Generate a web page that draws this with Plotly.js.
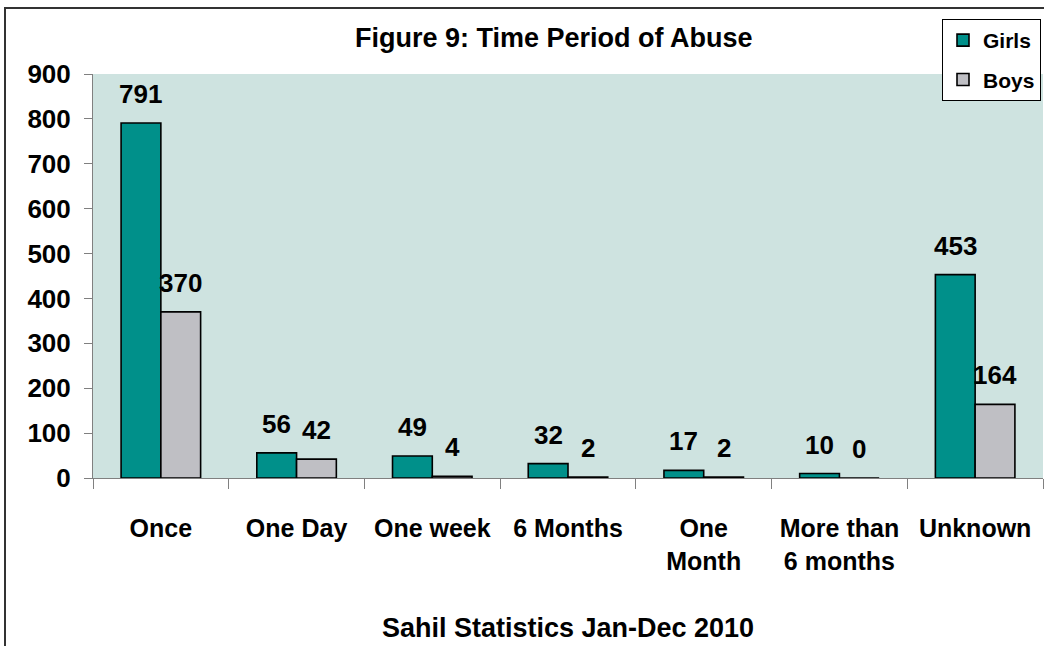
<!DOCTYPE html>
<html>
<head>
<meta charset="utf-8">
<script src="https://cdn.plot.ly/plotly-3.0.1.min.js"></script>
<style>
html,body{margin:0;padding:0;background:#fff;}
#chart{width:1044px;height:646px;}
</style>
</head>
<body>
<div id="chart"></div>
<script>
const categories = ["Once", "One Day", "One week", "6 Months", "One<br>Month", "More than<br>6 months", "Unknown"];
const girls = [791, 56, 49, 32, 17, 10, 453];
const boys = [370, 42, 4, 2, 2, 0, 164];
const seriesNames = ["Girls", "Boys"];
const yTicks = [0, 100, 200, 300, 400, 500, 600, 700, 800, 900];

const FONT = '"Liberation Sans", Arial, sans-serif';
const bargap = 0.414;
const barW = (1 - bargap) / 2;

const traces = [
  {
    type: 'bar', name: seriesNames[0], x: categories, y: girls,
    marker: {color: '#00908A', line: {color: '#000000', width: 1.6}},
    legendgroup: 'g', hoverinfo: 'skip'
  },
  {
    type: 'bar', name: seriesNames[1], x: categories, y: boys,
    marker: {color: '#BFBFC4', line: {color: '#000000', width: 1.6}},
    legendgroup: 'b', hoverinfo: 'skip'
  }
];

const annotations = [];
[girls, boys].forEach((vals, j) => {
  vals.forEach((v, i) => {
    annotations.push({
      x: i + (j === 0 ? -barW / 2 : barW / 2), xref: 'x',
      y: v, yref: 'y', yanchor: 'middle', yshift: 29,
      text: '<b>' + v + '</b>', showarrow: false,
      font: {family: FONT, size: 26, color: '#000'}
    });
  });
});

const layout = {
  width: 1044, height: 646,
  margin: {l: 93, r: 1, t: 74, b: 168},
  paper_bgcolor: '#ffffff',
  plot_bgcolor: '#CEE3E0',
  font: {family: FONT, color: '#000', size: 26, weight: 'bold'},
  title: {
    text: '<b>Figure 9: Time Period of Abuse</b>',
    font: {family: FONT, size: 27, color: '#000'},
    xref: 'paper', x: 0.485, xanchor: 'center',
    yref: 'container', y: 1 - 38 / 646, yanchor: 'middle'
  },
  barmode: 'group', bargap: bargap, bargroupgap: 0,
  xaxis: {
    type: 'category', tickangle: 0,
    tickson: 'boundaries', ticks: 'outside', ticklen: 10, tickcolor: '#808080', tickwidth: 1,
    showline: true, linecolor: '#808080', linewidth: 1,
    showgrid: false, zeroline: false,
    tickfont: {family: FONT, size: 25, color: '#000', weight: 'bold'},
    ticklabelstandoff: 28,
    automargin: false,
    title: {text: '<b>Sahil Statistics Jan-Dec 2010</b>', font: {family: FONT, size: 27, color: '#000'}, standoff: 44}
  },
  yaxis: {
    range: [0, 900], tickvals: yTicks, ticktext: yTicks.map(String),
    ticks: 'outside', ticklen: 8, tickcolor: '#808080', tickwidth: 1,
    showline: true, linecolor: '#808080', linewidth: 1,
    showgrid: false, zeroline: false,
    tickfont: {family: FONT, size: 26, color: '#000', weight: 'bold'},
    ticklabelstandoff: 8,
    automargin: false
  },
  showlegend: true,
  legend: {
    x: (942 - 93) / 950, xanchor: 'left',
    y: (478 - 19) / 404, yanchor: 'top',
    bgcolor: '#ffffff', bordercolor: '#000000', borderwidth: 1,
    font: {family: FONT, size: 21, color: '#000', weight: 'bold'},
    traceorder: 'grouped', tracegroupgap: 9,
    itemwidth: 30
  },
  annotations: annotations,
  shapes: [
    {type: 'rect', xref: 'paper', yref: 'paper',
     x0: (5 - 93) / 950, x1: (1046 - 93) / 950,
     y0: (478 - 650) / 404, y1: (478 - 8) / 404,
     line: {color: '#333333', width: 2}, fillcolor: 'rgba(0,0,0,0)', layer: 'below'}
  ]
};

Plotly.newPlot('chart', traces, layout, {staticPlot: true, displayModeBar: false});
</script>
</body>
</html>
